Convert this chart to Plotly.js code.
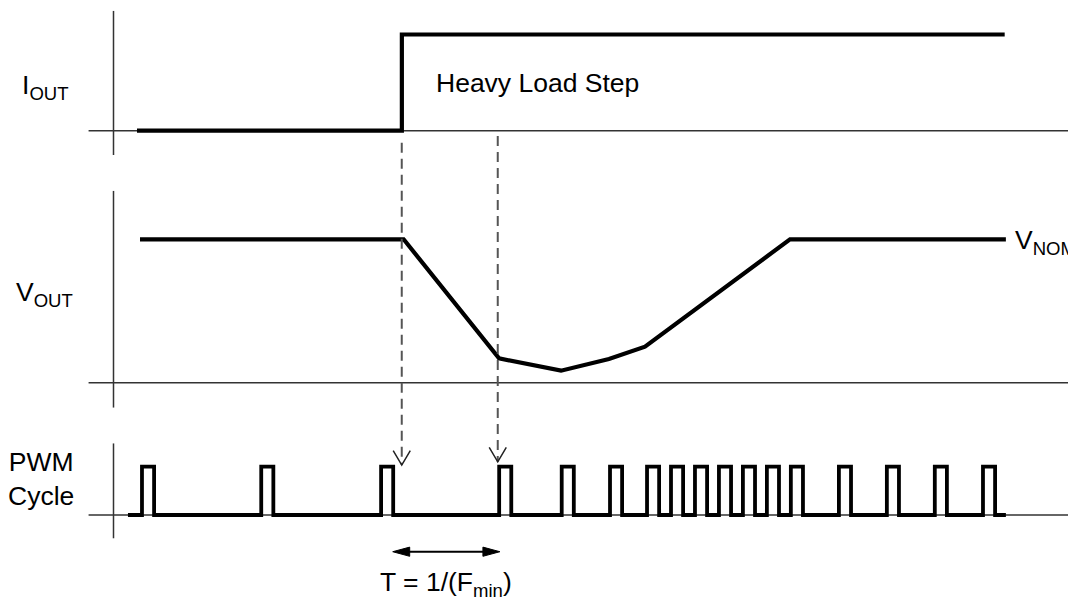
<!DOCTYPE html>
<html>
<head>
<meta charset="utf-8">
<script src="https://cdn.plot.ly/plotly-3.0.1.min.js"></script>
<style>
  html, body { margin: 0; padding: 0; background: #fff; }
  #chart { width: 1068px; height: 601px; }
</style>
</head>
<body>
<div id="chart"></div>
<script>
// ---------- data (time in arbitrary units, levels normalised per panel) ----------
// I_OUT : heavy load step
const ioutTime  = [1.98, 24.3, 24.3, 75.1];
const ioutLevel = [0, 0, 1, 1];

// V_OUT : droop and recovery (1 = V_NOM, 0 = panel baseline)
const voutTime  = [2.23, 24.45, 32.49, 37.71, 41.75, 44.79, 57.01, 75.2];
const voutLevel = [1, 1, 0.170, 0.084, 0.165, 0.251, 1, 1];

// PWM cycle : rising-edge times of each pulse, common pulse width
const pwmStart = 1.22;
const pwmEnd = 75.2;
const pulseStarts = [2.40, 12.45, 22.55, 32.50, 37.77, 41.84, 44.96, 46.98, 49.00,
                     51.02, 53.04, 55.06, 57.08, 61.13, 65.17, 69.21, 73.27];
const pulseWidth = 1.02;

// marker times (dashed lines) and the T = 1/Fmin interval
const markerTimes = [24.29, 32.38];
const markerStartLevels = [-0.125, -0.055];   // on I_OUT panel scale
const markerTipLevels = [1.035, 1.10];        // on PWM panel scale
const periodInterval = [23.53, 32.56];

// labels
const labelIout = 'I<sub>OUT</sub>';
const labelVout = 'V<sub>OUT</sub>';
const labelPwm = 'PWM<br>Cycle';
const labelStep = 'Heavy Load Step';
const labelVnom = 'V<sub>NOM</sub>';
const labelPeriod = 'T = 1/(F<sub>min</sub>)';

// ---------- layout helpers ----------
const FONT = 'Arial, "Liberation Sans", Helvetica, sans-serif';
const xRange = [-9.565, 80.435];
const axes = {
  y:  {domain: [0.7421, 0.9822], range: [-0.2526, 1.2474], span: [-0.2526, 1.2474]},
  y2: {domain: [0.3216, 0.6827], range: [-0.1743, 1.3389], span: [-0.1743, 1.3389]},
  y3: {domain: [0.0,    0.2624], range: [-1.7805, 1.4845], span: [-0.482, 1.4845]}
};
function toPaper(ax, v) {
  const a = axes[ax];
  return a.domain[0] + (v - a.range[0]) / (a.range[1] - a.range[0]) * (a.domain[1] - a.domain[0]);
}

// PWM square wave built from the pulse edges
const pwmX = [pwmStart], pwmY = [0];
pulseStarts.forEach(s => {
  pwmX.push(s, s, s + pulseWidth, s + pulseWidth);
  pwmY.push(0, 1, 1, 0);
});
pwmX.push(pwmEnd); pwmY.push(0);

const sigLine = {color: '#000', width: 4.2};
const traces = [
  {x: ioutTime, y: ioutLevel, yaxis: 'y',  mode: 'lines', line: sigLine, hoverinfo: 'skip'},
  {x: voutTime, y: voutLevel, yaxis: 'y2', mode: 'lines', line: sigLine, hoverinfo: 'skip'},
  {x: pwmX, y: pwmY, yaxis: 'y3', mode: 'lines', line: {color: '#000', width: 3.8}, hoverinfo: 'skip'}
];

const shapes = [];
const axisLine = {color: '#333', width: 1.5};
['y', 'y2', 'y3'].forEach(ax => {
  // vertical axis at t = 0
  shapes.push({type: 'line', xref: 'x', yref: ax, x0: 0, x1: 0,
               y0: axes[ax].span[0], y1: axes[ax].span[1], line: axisLine, layer: 'below'});
  // horizontal baseline
  shapes.push({type: 'line', xref: 'x', yref: ax, x0: -2.1, x1: xRange[1] + 1,
               y0: 0, y1: 0, line: axisLine, layer: 'below'});
});

// dashed marker lines with open arrowheads
const headHalfW = 0.72, headH = 0.30;
markerTimes.forEach((t, i) => {
  shapes.push({type: 'line', xref: 'x', yref: 'paper', x0: t, x1: t,
               y0: toPaper('y', markerStartLevels[i]), y1: toPaper('y3', markerTipLevels[i]),
               line: {color: '#555', width: 2, dash: '10px,6px'}});
  const tip = markerTipLevels[i];
  shapes.push({type: 'path', xref: 'x', yref: 'y3',
               path: `M ${t - headHalfW},${tip + headH} L ${t},${tip} L ${t + headHalfW},${tip + headH}`,
               line: {color: '#222', width: 1.5}});
});

// double arrow for T = 1/Fmin
const arrY = -0.76, arrLen = 1.43, arrHalf = 0.095;
const [p0, p1] = periodInterval;
shapes.push({type: 'line', xref: 'x', yref: 'y3', x0: p0 + arrLen * 0.8, x1: p1 - arrLen * 0.8,
             y0: arrY, y1: arrY, line: {color: '#000', width: 2}});
shapes.push({type: 'path', xref: 'x', yref: 'y3',
             path: `M ${p0},${arrY} L ${p0 + arrLen},${arrY + arrHalf} L ${p0 + arrLen},${arrY - arrHalf} Z`,
             fillcolor: '#000', line: {color: '#000', width: 1}});
shapes.push({type: 'path', xref: 'x', yref: 'y3',
             path: `M ${p1},${arrY} L ${p1 - arrLen},${arrY + arrHalf} L ${p1 - arrLen},${arrY - arrHalf} Z`,
             fillcolor: '#000', line: {color: '#000', width: 1}});

const txtFont = {family: FONT, size: 26.5, color: '#000'};
function ann(text, x, yref, y, xanchor, extra) {
  return Object.assign({text, x, y, xref: 'x', yref, xanchor, yanchor: 'middle',
                        showarrow: false, font: txtFont, align: 'center'}, extra || {});
}
const annotations = [
  ann(labelIout, -7.90, 'y', 0.45, 'left'),
  ann(labelVout, -8.35, 'y2', 0.62, 'left'),
  ann(labelPwm, -6.11, 'y3', 0.75, 'center'),
  ann(labelStep, 27.0, 'y', 0.50, 'left'),
  ann(labelVnom, 75.77, 'y2', 0.98, 'left'),
  ann(labelPeriod, 28.0, 'y3', -1.43, 'center')
];

const layout = {
  width: 1068, height: 601,
  margin: {l: 0, r: 0, t: 0, b: 0},
  paper_bgcolor: '#fff', plot_bgcolor: '#fff',
  showlegend: false,
  font: {family: FONT},
  xaxis: {range: xRange, visible: false, fixedrange: true},
  yaxis:  {domain: axes.y.domain,  range: axes.y.range,  visible: false, anchor: 'x'},
  yaxis2: {domain: axes.y2.domain, range: axes.y2.range, visible: false, anchor: 'x'},
  yaxis3: {domain: axes.y3.domain, range: axes.y3.range, visible: false, anchor: 'x'},
  shapes, annotations
};

Plotly.newPlot('chart', traces, layout, {staticPlot: true, displayModeBar: false});
</script>
</body>
</html>
